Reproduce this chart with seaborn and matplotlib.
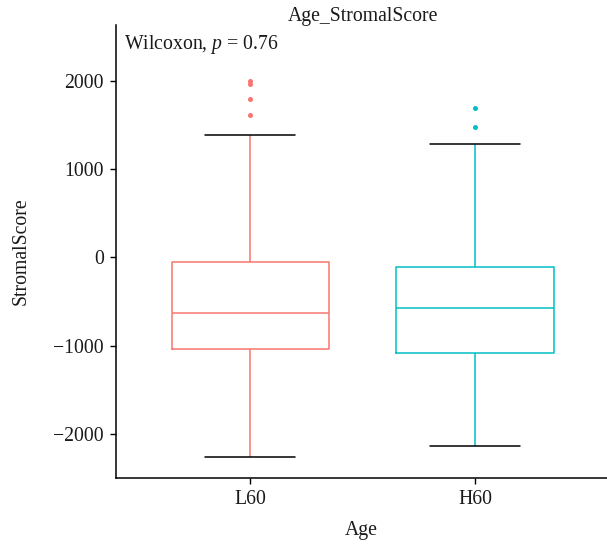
import numpy as np
import pandas as pd
import matplotlib
matplotlib.use("Agg")
import matplotlib.pyplot as plt
import seaborn as sns

# ---- values ----
groups = ["L60", "H60"]
colors = ["#F8766D", "#00BFC4"]
lower_whisker = [-2265, -2140]
q1 = [-1035, -1084]
median = [-631, -574]
q3 = [-50, -106]
upper_whisker = [1382, 1280]
outliers = [[1612, 1789, 1963, 1997], [1479, 1687]]
yticks = [-2000, -1000, 0, 1000, 2000]
title = "Age_StromalScore"
xlabel = "Age"
ylabel = "StromalScore"

# Build a long table whose quartiles/whiskers equal the read values
rows = []
for i, g in enumerate(groups):
    k = max(3, len(outliers[i]) + 1)
    vals = ([lower_whisker[i]] + [q1[i]] * k + [median[i]] * k +
            [q3[i]] * k + [upper_whisker[i]] + outliers[i])
    while len(vals) < 4 * k + 1:
        vals.insert(-len(outliers[i]) - 1 if outliers[i] else len(vals) - 1, upper_whisker[i])
    for v in vals:
        rows.append({"Age": g, "StromalScore": v})
df = pd.DataFrame(rows)

sns.set_theme(style="ticks")
plt.rcParams["font.family"] = ["Liberation Serif", "DejaVu Serif"]
plt.rcParams["mathtext.fontset"] = "custom"
plt.rcParams["mathtext.it"] = "Liberation Serif:italic"
plt.rcParams["mathtext.rm"] = "Liberation Serif"

FS = 14.2
fig = plt.figure(figsize=(6.07, 5.48), dpi=100)
ax = fig.add_axes([115.5 / 607, 1 - 478 / 548, 1 - 115.5 / 607, (478 - 25) / 548])

sns.boxplot(data=df, x="Age", y="StromalScore", hue="Age", order=groups,
            hue_order=groups, palette=colors, fill=False, dodge=False,
            width=0.7, linewidth=1.1, whis=1.5, legend=False,
            capprops={"color": "black"},
            flierprops={"marker": "o", "markersize": 3.6, "markeredgewidth": 0},
            capwidths=0.4, ax=ax)

for line in ax.lines:
    if line.get_marker() == "o":
        c = line.get_markeredgecolor()
        line.set_markerfacecolor(c)

ax.set_xlim(-0.6, 1.587)
ax.set_ylim(-2500, 2631)
ax.set_yticks(yticks)
ax.set_yticklabels([f"{t}".replace("-", "\u2212") for t in yticks])
ax.tick_params(axis="both", labelsize=FS, length=4.5, width=1.0,
               colors="black", labelcolor="#1a1a1a", pad=4)
ax.set_xlabel(xlabel, fontsize=FS, color="#1a1a1a", labelpad=9)
ax.set_ylabel(ylabel, fontsize=FS, color="#1a1a1a", labelpad=16)
for s in ["top", "right"]:
    ax.spines[s].set_visible(False)
for s in ["left", "bottom"]:
    ax.spines[s].set_linewidth(1.1)
    ax.spines[s].set_color("black")

fig.text((115.5 + 610) / 2 / 607, 1 - 16 / 548, title, ha="center", va="center",
         fontsize=FS, color="#1a1a1a")
ax.text(0.017, 0.983, r"Wilcoxon, $p$ = 0.76", transform=ax.transAxes,
        ha="left", va="top", fontsize=FS, color="#1a1a1a")

fig.savefig("out.png", dpi=100)
